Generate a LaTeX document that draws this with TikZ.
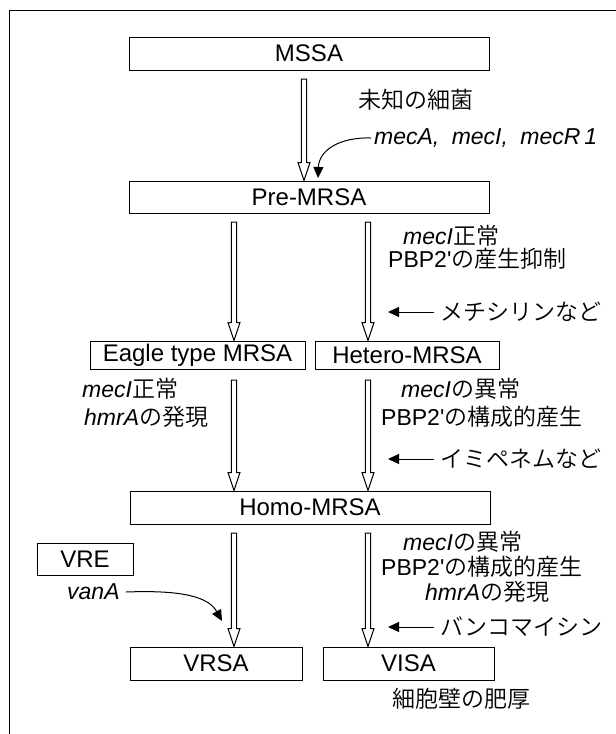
\documentclass[tikz,border=0pt]{standalone}
\usepackage{fontspec}
\setmainfont{Liberation Sans}
\IfFontExistsTF{Noto Sans CJK JP DemiLight}
  {\newfontfamily\jp{Noto Sans CJK JP DemiLight}}
  {\newfontfamily\jp{Noto Sans CJK JP}}
\usetikzlibrary{arrows.meta,calc}
\newcommand\J[1]{{\jp #1}}
\newcommand\hol[2]{\draw[hollowarrow] let \p1=(#1), \p2=(#2) in
  (\x1-2.7pt,\y1) -- (\x1-2.7pt,\y2+18pt) -- (\x1-6pt,\y2+18pt) -- (\x1,\y2)
  -- (\x1+6pt,\y2+18pt) -- (\x1+2.7pt,\y2+18pt) -- (\x1+2.7pt,\y1) -- cycle;}
\begin{document}
\begin{tikzpicture}[x=1pt,y=-1pt,
  font=\fontsize{23}{25}\selectfont,
  box/.style={draw, line width=1pt, inner sep=0pt, font=\fontsize{24}{26}\selectfont},
  lbl/.style={inner sep=0pt, anchor=west},
  blk/.style={line width=1pt, -{Triangle[width=10pt,length=11pt]}},
  hollowarrow/.style={line width=1pt, fill=white, line join=miter}]
\useasboundingbox (0,0) rectangle (616,734);
\draw[line width=1pt] (9,740) -- (9,10) -- (620,10);

% boxes
\node[box, minimum width=360pt, minimum height=33pt] (mssa) at (309,53.5) {MSSA};
\node[box, minimum width=360pt, minimum height=32pt] (pre) at (309,197) {Pre-MRSA};
\node[box, minimum width=215pt, minimum height=28pt] (eagle) at (197.5,355) {Eagle type MRSA};
\node[box, minimum width=184pt, minimum height=28pt] (hetero) at (407,355) {Hetero-MRSA};
\node[box, minimum width=360pt, minimum height=33pt] (homo) at (310,507.5) {Homo-MRSA};
\node[box, minimum width=96pt, minimum height=32pt] (vre) at (85,559) {VRE};
\node[box, minimum width=172pt, minimum height=33pt] (vrsa) at (216,663.5) {VRSA};
\node[box, minimum width=171pt, minimum height=33pt] (visa) at (408.5,663.5) {VISA};

% labels
\node[lbl] (unk) at (358,100) {\J{未知の細菌}};
\node[lbl] (mec) at (374,138) {\itshape mecA,\hspace{6pt} mecI,\hspace{6pt} mecR\hspace{4pt}1};
\node[lbl] (n1a) at (403,236) {{\itshape mecI}\J{正常}};
\node[lbl] (n1b) at (388,259) {PBP2\textquotesingle\J{の産生抑制}};
\node[lbl] (meth) at (440,312) {\J{メチシリンなど}};
\node[lbl] (n2a) at (82,389) {{\itshape mecI}\J{正常}};
\node[lbl] (n2b) at (84,417) {{\itshape hmrA}\J{の発現}};
\node[lbl] (n3a) at (401,389) {{\itshape mecI}\J{の異常}};
\node[lbl] (n3b) at (381,417) {PBP2\textquotesingle\J{の構成的産生}};
\node[lbl] (imi) at (440,459) {\J{イミペネムなど}};
\node[lbl] (n4a) at (403,542) {{\itshape mecI}\J{の異常}};
\node[lbl] (n4b) at (381,567) {PBP2\textquotesingle\J{の構成的産生}};
\node[lbl] (n4c) at (425,592) {{\itshape hmrA}\J{の発現}};
\node[lbl] (vanc) at (440,627) {\J{バンコマイシン}};
\node[lbl] (cell) at (392,699) {\J{細胞壁の肥厚}};
\node[lbl] (vana) at (67,592) {\itshape vanA};

% hollow arrows
\coordinate (s1) at (304,79);
\coordinate (s2) at (234,222);
\coordinate (s3) at (368,222);
\coordinate (s4) at (234,380);
\coordinate (s5) at (368,380);
\coordinate (s6) at (234,533);
\coordinate (s7) at (368,533);
\hol{s1}{s1 |- pre.north}
\hol{s2}{s2 |- eagle.north}
\hol{s3}{s3 |- hetero.north}
\hol{s4}{s4 |- homo.north}
\hol{s5}{s5 |- homo.north}
\hol{s6}{s6 |- vrsa.north}
\hol{s7}{s7 |- visa.north}

% black arrows
\coordinate (t0) at (318,178);
\draw[blk] ($(mec.west)+(-3,0)$) .. controls (340,137) and (319,150) .. (t0);
\coordinate (tv) at (222,621);
\draw[blk] ($(vana.east)+(6,0)$) .. controls (180,590) and (208,596) .. (tv);
\coordinate (tm) at (388,312);
\draw[blk, shorten <=6pt] (meth.west) -- (tm);
\coordinate (ti) at (388,459);
\draw[blk, shorten <=6pt] (imi.west) -- (ti);
\coordinate (tb) at (388,627);
\draw[blk, shorten <=6pt] (vanc.west) -- (tb);
\end{tikzpicture}
\end{document}
